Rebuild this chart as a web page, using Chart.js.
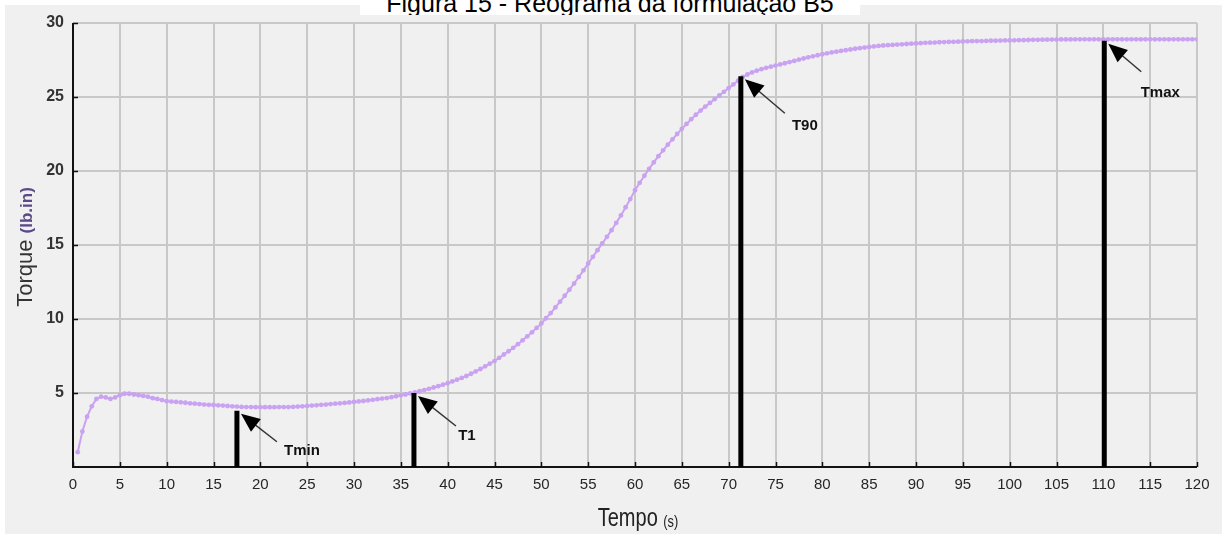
<!DOCTYPE html>
<html>
<head>
<meta charset="utf-8">
<title>Reograma</title>
<script src="https://cdn.jsdelivr.net/npm/chart.js@4.4.1/dist/chart.umd.min.js"></script>
<style>
    html, body {
        margin: 0;
        padding: 0;
        background: #ffffff;
        overflow: hidden;
    }
    .panel {
        position: absolute;
        left: 5px;
        top: 5px;
        width: 1217px;
        height: 529px;
        background: #f0f0f0;
    }
    .caption {
        position: absolute;
        left: 360px;
        top: 0;
        width: 500px;
        height: 15px;
        background: #ffffff;
        overflow: hidden;
    }
    .caption span {
        position: absolute;
        left: 0;
        right: 0;
        top: -9px;
        text-align: center;
        font: 25px/25px "Liberation Sans", Arial, sans-serif;
        color: #000;
        white-space: nowrap;
    }
    .chart-box {
        position: absolute;
        left: 0;
        top: 0;
        width: 1222px;
        height: 534px;
    }
</style>
</head>
<body>
<div class="panel"></div>
<div class="caption"><span>Figura 15 - Reograma da formulação B5</span></div>
<div class="chart-box"><canvas id="rheoChart"></canvas></div>

<script>
// ---- rheometer curve: time (s) and torque (lb.in) ----
const timeS = [
    0.5, 1, 1.5, 2, 2.5, 3, 3.5, 4, 4.5, 5,
    5.5, 6, 6.5, 7, 7.5, 8, 8.5, 9, 9.5, 10,
    10.5, 11, 11.5, 12, 12.5, 13, 13.5, 14, 14.5, 15,
    15.5, 16, 16.5, 17, 17.5, 18, 18.5, 19, 19.5, 20,
    20.5, 21, 21.5, 22, 22.5, 23, 23.5, 24, 24.5, 25,
    25.5, 26, 26.5, 27, 27.5, 28, 28.5, 29, 29.5, 30,
    30.5, 31, 31.5, 32, 32.5, 33, 33.5, 34, 34.5, 35,
    35.5, 36, 36.5, 37, 37.5, 38, 38.5, 39, 39.5, 40,
    40.5, 41, 41.5, 42, 42.5, 43, 43.5, 44, 44.5, 45,
    45.5, 46, 46.5, 47, 47.5, 48, 48.5, 49, 49.5, 50,
    50.5, 51, 51.5, 52, 52.5, 53, 53.5, 54, 54.5, 55,
    55.5, 56, 56.5, 57, 57.5, 58, 58.5, 59, 59.5, 60,
    60.5, 61, 61.5, 62, 62.5, 63, 63.5, 64, 64.5, 65,
    65.5, 66, 66.5, 67, 67.5, 68, 68.5, 69, 69.5, 70,
    70.5, 71, 71.5, 72, 72.5, 73, 73.5, 74, 74.5, 75,
    75.5, 76, 76.5, 77, 77.5, 78, 78.5, 79, 79.5, 80,
    80.5, 81, 81.5, 82, 82.5, 83, 83.5, 84, 84.5, 85,
    85.5, 86, 86.5, 87, 87.5, 88, 88.5, 89, 89.5, 90,
    90.5, 91, 91.5, 92, 92.5, 93, 93.5, 94, 94.5, 95,
    95.5, 96, 96.5, 97, 97.5, 98, 98.5, 99, 99.5, 100,
    100.5, 101, 101.5, 102, 102.5, 103, 103.5, 104, 104.5, 105,
    105.5, 106, 106.5, 107, 107.5, 108, 108.5, 109, 109.5, 110,
    110.5, 111, 111.5, 112, 112.5, 113, 113.5, 114, 114.5, 115,
    115.5, 116, 116.5, 117, 117.5, 118, 118.5, 119, 119.5, 120
];

const torque = [
    1.0, 2.4, 3.4, 4.1, 4.6, 4.75, 4.7, 4.6, 4.7, 4.85,
    4.95, 4.95, 4.9, 4.85, 4.8, 4.75, 4.65, 4.6, 4.52, 4.45,
    4.42, 4.4, 4.37, 4.34, 4.3, 4.28, 4.25, 4.22, 4.2, 4.19,
    4.17, 4.15, 4.12, 4.1, 4.08, 4.06, 4.05, 4.05, 4.04, 4.04,
    4.04, 4.04, 4.04, 4.05, 4.05, 4.05, 4.06, 4.08, 4.1, 4.12,
    4.15, 4.17, 4.2, 4.22, 4.25, 4.28, 4.3, 4.33, 4.36, 4.4,
    4.43, 4.46, 4.5, 4.54, 4.58, 4.62, 4.66, 4.72, 4.78, 4.84,
    4.9, 4.97, 5.04, 5.12, 5.2, 5.28, 5.37, 5.46, 5.56, 5.66,
    5.78, 5.9, 6.02, 6.15, 6.3, 6.46, 6.62, 6.8, 6.98, 7.16,
    7.38, 7.6, 7.82, 8.05, 8.3, 8.56, 8.83, 9.1, 9.4, 9.7,
    10.05, 10.4, 10.78, 11.17, 11.57, 11.98, 12.4, 12.84, 13.29, 13.75,
    14.2, 14.65, 15.1, 15.55, 16.0, 16.5, 17.0, 17.55, 18.1, 18.7,
    19.2, 19.68, 20.14, 20.58, 21.0, 21.4, 21.78, 22.14, 22.5, 22.85,
    23.18, 23.5, 23.8, 24.08, 24.35, 24.6, 24.85, 25.1, 25.35, 25.6,
    25.85, 26.1, 26.35, 26.52, 26.66, 26.78, 26.88, 26.97, 27.05, 27.12,
    27.2, 27.28, 27.36, 27.44, 27.52, 27.6, 27.68, 27.75, 27.82, 27.89,
    27.95, 28.01, 28.06, 28.11, 28.16, 28.21, 28.26, 28.3, 28.34, 28.38,
    28.42, 28.45, 28.48, 28.5, 28.52, 28.54, 28.56, 28.58, 28.6, 28.62,
    28.64, 28.66, 28.67, 28.68, 28.7, 28.71, 28.72, 28.73, 28.74, 28.75,
    28.76, 28.77, 28.78, 28.78, 28.79, 28.8, 28.8, 28.81, 28.82, 28.82,
    28.83, 28.84, 28.84, 28.85, 28.86, 28.86, 28.87, 28.87, 28.88, 28.88,
    28.89, 28.89, 28.89, 28.9, 28.9, 28.9, 28.9, 28.9, 28.9, 28.9,
    28.9, 28.9, 28.9, 28.9, 28.9, 28.9, 28.9, 28.9, 28.9, 28.9,
    28.9, 28.9, 28.9, 28.9, 28.9, 28.9, 28.9, 28.9, 28.9, 28.9
];

// ---- characteristic points marked on the curve ----
const markerNames = ['Tmin', 'T1', 'T90', 'Tmax'];
const markerTimes = [17.5, 36.4, 71.3, 110.1];
const markerTorque = [3.8, 5.0, 26.4, 28.8];

// ---- axis ticks ----
const xTicks = [0, 5, 10, 15, 20, 25, 30, 35, 40, 45, 50, 55, 60, 65, 70, 75, 80, 85, 90, 95, 100, 105, 110, 115, 120];
const yTicks = [5, 10, 15, 20, 25, 30];

const CURVE_COLOR = '#c9a2f2';
const GRID_COLOR = '#c8c8c8';
const TEXT_COLOR = '#262626';
const SANS = '"Liberation Sans", Arial, sans-serif';

// label placement relative to each arrow tip (pixels)
const markerLayout = [
    { tail: [36, 28], label: [61, 37] },
    { tail: [38, 30], label: [49, 40] },
    { tail: [40, 34], label: [60, 47] },
    { tail: [33, 28], label: [52, 49] }
];

// Axis lines, inward tick marks and the mixed-size axis titles
const axisFramePlugin = {
    id: 'axisFrame',
    afterDatasetsDraw(chart) {
        const { ctx, chartArea, scales } = chart;
        const x = scales.x, y = scales.y;
        ctx.save();
        ctx.strokeStyle = '#111';
        ctx.lineWidth = 2;
        ctx.beginPath();
        ctx.moveTo(chartArea.left, chartArea.top);
        ctx.lineTo(chartArea.left, chartArea.bottom);
        ctx.lineTo(chartArea.right, chartArea.bottom);
        ctx.stroke();

        ctx.lineWidth = 1.5;
        ctx.beginPath();
        xTicks.forEach(v => {
            const px = Math.round(x.getPixelForValue(v)) + 0.5;
            ctx.moveTo(px, chartArea.bottom);
            ctx.lineTo(px, chartArea.bottom - 5);
        });
        yTicks.forEach(v => {
            const py = Math.round(y.getPixelForValue(v)) + 0.5;
            ctx.moveTo(chartArea.left, py);
            ctx.lineTo(chartArea.left + 5, py);
        });
        ctx.stroke();
        ctx.restore();
    },
    afterDraw(chart) {
        const { ctx, chartArea } = chart;
        ctx.save();

        // vertical title: "Torque (lb.in)"
        ctx.translate(26, (chartArea.top + chartArea.bottom) / 2 + 2);
        ctx.rotate(-Math.PI / 2);
        ctx.textBaseline = 'middle';
        ctx.textAlign = 'left';
        const bigFont = '22px ' + SANS;
        const smallFont = 'bold 17px ' + SANS;
        ctx.font = bigFont;
        const w1 = ctx.measureText('Torque ').width;
        ctx.font = smallFont;
        const w2 = ctx.measureText('(lb.in)').width;
        const sx = -(w1 + w2) / 2;
        ctx.fillStyle = '#333';
        ctx.font = bigFont;
        ctx.fillText('Torque ', sx, 0);
        ctx.fillStyle = '#5b4a86';
        ctx.font = smallFont;
        ctx.fillText('(lb.in)', sx + w1, 1);
        ctx.restore();

        // horizontal title: "Tempo (s)", condensed horizontally
        ctx.save();
        ctx.translate(638, 526);
        ctx.scale(0.8, 1);
        ctx.textBaseline = 'alphabetic';
        ctx.textAlign = 'left';
        const tFont = '25px ' + SANS;
        const sFont = '16px ' + SANS;
        ctx.font = tFont;
        const t1 = ctx.measureText('Tempo ').width;
        ctx.font = sFont;
        const t2 = ctx.measureText('(s)').width;
        ctx.fillStyle = '#222';
        ctx.font = tFont;
        ctx.fillText('Tempo ', -(t1 + t2) / 2, 0);
        ctx.font = sFont;
        ctx.fillText('(s)', -(t1 + t2) / 2 + t1, 1);
        ctx.restore();
    }
};

// Black marker bars with arrows pointing at Tmin, T1, T90 and Tmax
const markerPlugin = {
    id: 'markers',
    afterDatasetsDraw(chart) {
        const { ctx, scales } = chart;
        const x = scales.x, y = scales.y;
        ctx.save();
        markerNames.forEach((name, i) => {
            const px = x.getPixelForValue(markerTimes[i]);
            const pTop = y.getPixelForValue(markerTorque[i]);
            const pBase = y.getPixelForValue(0);

            ctx.strokeStyle = '#000';
            ctx.lineWidth = 5;
            ctx.lineCap = 'butt';
            ctx.beginPath();
            ctx.moveTo(px, pBase);
            ctx.lineTo(px, pTop);
            ctx.stroke();

            const tipX = px + 4, tipY = pTop + 3;
            const lay = markerLayout[i];
            const endX = tipX + lay.tail[0], endY = tipY + lay.tail[1];
            const ang = Math.atan2(endY - tipY, endX - tipX);

            ctx.lineWidth = 1.5;
            ctx.strokeStyle = '#333';
            ctx.beginPath();
            ctx.moveTo(tipX + Math.cos(ang) * 10, tipY + Math.sin(ang) * 10);
            ctx.lineTo(endX, endY);
            ctx.stroke();

            const headLen = 19, headHalf = 8;
            const bx = tipX + Math.cos(ang) * headLen;
            const by = tipY + Math.sin(ang) * headLen;
            ctx.fillStyle = '#000';
            ctx.beginPath();
            ctx.moveTo(tipX, tipY);
            ctx.lineTo(bx - Math.sin(ang) * headHalf, by + Math.cos(ang) * headHalf);
            ctx.lineTo(bx + Math.sin(ang) * headHalf, by - Math.cos(ang) * headHalf);
            ctx.closePath();
            ctx.fill();

            ctx.font = 'bold 15px ' + SANS;
            ctx.fillStyle = '#111';
            ctx.textAlign = 'center';
            ctx.textBaseline = 'middle';
            ctx.fillText(name, tipX + lay.label[0], tipY + lay.label[1]);
        });
        ctx.restore();
    }
};

const points = timeS.map((t, i) => ({ x: t, y: torque[i] }));

new Chart(document.getElementById('rheoChart'), {
    type: 'line',
    data: {
        datasets: [{
            label: 'Torque',
            data: points,
            borderColor: CURVE_COLOR,
            backgroundColor: CURVE_COLOR,
            borderWidth: 2,
            pointRadius: 2.4,
            pointBorderWidth: 0,
            pointBackgroundColor: CURVE_COLOR,
            tension: 0,
            fill: false
        }]
    },
    options: {
        responsive: true,
        maintainAspectRatio: false,
        animation: false,
        layout: {
            padding: { left: 0, right: 25, top: 23, bottom: 0 }
        },
        plugins: {
            legend: { display: false },
            tooltip: { enabled: false },
            title: { display: false }
        },
        scales: {
            x: {
                type: 'linear',
                min: 0,
                max: 120,
                afterFit(scale) { scale.height = 67; },
                afterBuildTicks(scale) { scale.ticks = xTicks.map(v => ({ value: v })); },
                grid: { color: GRID_COLOR, lineWidth: 2, drawTicks: false },
                border: { display: false },
                ticks: {
                    color: TEXT_COLOR,
                    padding: 9,
                    maxRotation: 0,
                    autoSkip: false,
                    font: { family: SANS, size: 15 }
                }
            },
            y: {
                type: 'linear',
                min: 0,
                max: 30,
                afterFit(scale) { scale.width = 73; },
                afterBuildTicks(scale) { scale.ticks = [0].concat(yTicks).map(v => ({ value: v })); },
                grid: { color: GRID_COLOR, lineWidth: 2, drawTicks: false },
                border: { display: false },
                ticks: {
                    color: '#333',
                    padding: 9,
                    font: { family: SANS, size: 16, weight: 'bold' },
                    callback: v => (v === 0 ? '' : v)
                }
            }
        }
    },
    plugins: [axisFramePlugin, markerPlugin]
});
</script>
</body>
</html>
